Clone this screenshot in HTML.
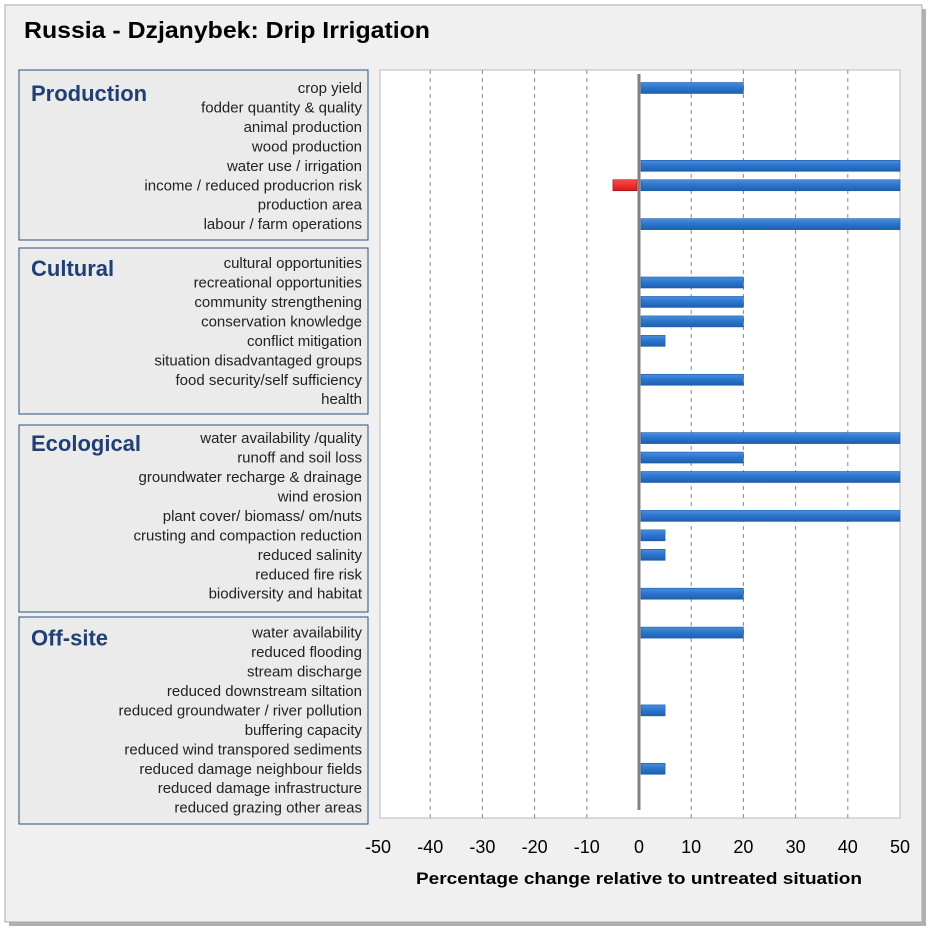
<!DOCTYPE html>
<html><head><meta charset="utf-8"><style>
body{margin:0;width:936px;height:935px;background:#fff;font-family:"Liberation Sans",sans-serif;overflow:hidden}
svg text{font-family:"Liberation Sans",sans-serif}
</style></head><body>
<svg id="c" width="936" height="935" xmlns="http://www.w3.org/2000/svg">
<defs>
<linearGradient id="bl" x1="0" y1="0" x2="0" y2="1"><stop offset="0" stop-color="#4a8ee0"/><stop offset="0.5" stop-color="#2a74cc"/><stop offset="1" stop-color="#1f5fae"/></linearGradient>
<linearGradient id="rd" x1="0" y1="0" x2="0" y2="1"><stop offset="0" stop-color="#ff4a4a"/><stop offset="1" stop-color="#d81818"/></linearGradient>
</defs>
<rect x="9" y="9" width="917" height="917" fill="#b0b0b0"/>
<rect x="5" y="5" width="917" height="917" fill="#f0f0f0" stroke="#a8a8a8"/>
<text x="24" y="38" font-size="23" font-weight="bold" fill="#000" textLength="406" lengthAdjust="spacingAndGlyphs">Russia - Dzjanybek: Drip Irrigation</text>
<rect x="380" y="70" width="520" height="748" fill="#fff" stroke="#bbb"/>
<g id="grid"></g><g id="labels"></g><g id="bars"></g><g id="ticks"></g>
<text x="639" y="884" font-size="17" font-weight="bold" text-anchor="middle" fill="#000" textLength="446" lengthAdjust="spacingAndGlyphs">Percentage change relative to untreated situation</text>
</svg>
<script>
const groups = ["Production","Cultural","Ecological","Off-site"];
const groupItems = [
 ["crop yield","fodder quantity & quality","animal production","wood production","water use / irrigation","income / reduced producrion risk","production area","labour / farm operations"],
 ["cultural opportunities","recreational opportunities","community strengthening","conservation knowledge","conflict mitigation","situation disadvantaged groups","food security/self sufficiency","health"],
 ["water availability /quality","runoff and soil loss","groundwater recharge & drainage","wind erosion","plant cover/ biomass/ om/nuts","crusting and compaction reduction ","reduced salinity","reduced fire risk","biodiversity and habitat"],
 ["water availability","reduced flooding ","stream discharge","reduced downstream siltation","reduced groundwater / river pollution","buffering capacity","reduced wind transpored sediments","reduced damage neighbour fields","reduced damage infrastructure","reduced grazing other areas"]
];
const positiveValues = [
 [20,0,0,0,50,50,0,50],
 [0,20,20,20,5,0,20,0],
 [50,20,50,0,50,5,5,0,20],
 [20,0,0,0,5,0,0,5,0,0]
];
const negativeValues = [
 [0,0,0,0,0,-5,0,0],
 [0,0,0,0,0,0,0,0],
 [0,0,0,0,0,0,0,0,0],
 [0,0,0,0,0,0,0,0,0,0]
];
const tickLabels = [-50,-40,-30,-20,-10,0,10,20,30,40,50];
const NS="http://www.w3.org/2000/svg";
const x0=378,x1=900,xmin=-50,xmax=50;
const X=v=>x0+(v-xmin)/(xmax-xmin)*(x1-x0);
const rowY=i=>88+i*19.45;
function mk(t,a,p){const e=document.createElementNS(NS,t);for(const k in a)e.setAttribute(k,a[k]);p.appendChild(e);return e;}
const grid=document.getElementById('grid'),lab=document.getElementById('labels'),bars=document.getElementById('bars'),ticks=document.getElementById('ticks');
tickLabels.forEach(t=>{
 if(t!==0&&t!==50&&t!==-50){const l=mk('line',{x1:X(t),x2:X(t),y1:70,y2:818,stroke:'#888','stroke-dasharray':'4,4'},grid);
 
 }
 const tx=mk('text',{x:X(t),y:853,'font-size':18,'text-anchor':'middle',fill:'#000'},ticks);tx.textContent=t;
 
 
});
const boxY=[[70,240],[248,414],[425,612],[617,824]];
let idx=0;
groups.forEach((g,gi)=>{
 const b=mk('rect',{x:19,y:boxY[gi][0],width:349,height:boxY[gi][1]-boxY[gi][0],fill:'#ebebeb',stroke:'#2b4f80','stroke-width':1},lab);
 
 
 const gt=mk('text',{x:31,y:rowY(idx)+13,'font-size':22,'font-weight':'bold',fill:'#1f3f75'},lab);gt.textContent=g;
 
 
 groupItems[gi].forEach((it,ii)=>{
  const y=rowY(idx);
  const t=mk('text',{x:362,y:y+5,'font-size':15,'text-anchor':'end',fill:'#222'},lab);t.textContent=it;
  
  
  const v=positiveValues[gi][ii];
  if(v>0){const r=mk('rect',{x:X(0)+2,y:y-5.5,width:X(v)-X(0)-2,height:11,fill:'url(#bl)',stroke:'#1d5aa3','stroke-width':0.6},bars);
   
   }
  const n=negativeValues[gi][ii];
  if(n<0){const r=mk('rect',{x:X(n),y:y-5.5,width:X(0)-X(n)-2,height:11,fill:'url(#rd)',stroke:'#9b1010','stroke-width':0.6},bars);
   
   }
  idx++;
 });
 idx++;
});
const z=mk('line',{x1:X(0),x2:X(0),y1:74,y2:810,stroke:'#808080','stroke-width':3},bars);


</script>
</body></html>
